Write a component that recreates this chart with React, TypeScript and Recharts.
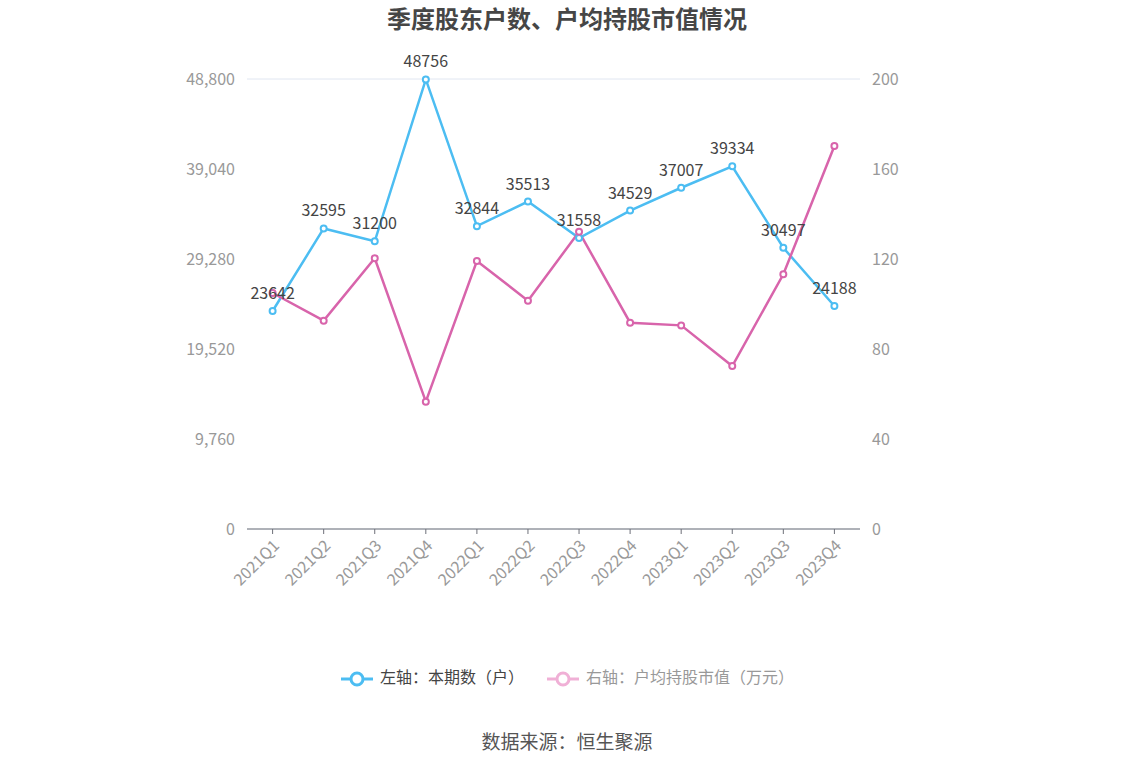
import { LineChart, Line, XAxis, YAxis, CartesianGrid, LabelList } from 'recharts';

const quarters = [
  '2021Q1', '2021Q2', '2021Q3', '2021Q4',
  '2022Q1', '2022Q2', '2022Q3', '2022Q4',
  '2023Q1', '2023Q2', '2023Q3', '2023Q4',
];
const holders = [23642, 32595, 31200, 48756, 32844, 35513, 31558, 34529, 37007, 39334, 30497, 24188];
const avgValue = [104.9, 92.6, 120.3, 56.6, 119.1, 101.5, 132.1, 91.7, 90.5, 72.4, 113.2, 170.2];
const leftTicks = [0, 9760, 19520, 29280, 39040, 48800];
const rightTicks = [0, 40, 80, 120, 160, 200];

const data = quarters.map((q, i) => ({ q, holders: holders[i], avg: avgValue[i] }));

const FONT = '"Noto Sans CJK SC", "Noto Sans", sans-serif';
const BLUE = '#4cbdf2';
const PINK = '#d864ab';

function XTick(props: any) {
  const { x, y, payload } = props;
  return (
    <g transform={`translate(${x},${y + 3})`}>
      <text
        transform="rotate(-45)"
        textAnchor="end"
        dy={11}
        fill="#999"
        fontSize={16}
        fontFamily={FONT}
      >
        {payload.value}
      </text>
    </g>
  );
}

function LegendIcon({ color }: { color: string }) {
  return (
    <svg width={34} height={16} style={{ verticalAlign: 'middle', marginRight: 6 }}>
      <line x1={1} y1={8} x2={33} y2={8} stroke={color} strokeWidth={3} />
      <circle cx={17} cy={8} r={6} fill="#fff" stroke={color} strokeWidth={3} />
    </svg>
  );
}

export default function App() {
  return (
    <div style={{ position: 'fixed', left: 0, top: 0, width: 1134, height: 766, background: '#fff', fontFamily: FONT }}>
      <div style={{ position: 'absolute', top: 0, width: 1134, textAlign: 'center', fontSize: 24, fontWeight: 'bold', color: '#464646' }}>
        季度股东户数、户均持股市值情况
      </div>
      <LineChart
        width={1134}
        height={766}
        data={data}
        margin={{ top: 79, right: 214, left: 187, bottom: 167 }}
      >
        <CartesianGrid vertical={false} stroke="#e0e6f1" />
        <XAxis
          dataKey="q"
          interval={0}
          padding={{ left: 25.6, right: 25.6 }}
          stroke="#6e7079"
          tick={<XTick />}
          tickSize={5}
          height={70}
        />
        <YAxis
          yAxisId="left"
          domain={[0, 48800]}
          ticks={leftTicks}
          axisLine={false}
          tickLine={false}
          tickMargin={6}
          width={60}
          tick={{ fill: '#999', fontSize: 16, fontFamily: FONT }}
          tickFormatter={(v: number) => v.toLocaleString('en-US')}
        />
        <YAxis
          yAxisId="right"
          orientation="right"
          domain={[0, 200]}
          ticks={rightTicks}
          axisLine={false}
          tickLine={false}
          tickMargin={6}
          width={60}
          tick={{ fill: '#999', fontSize: 16, fontFamily: FONT }}
        />
        <Line
          yAxisId="left"
          dataKey="holders"
          stroke={BLUE}
          strokeWidth={2.5}
          dot={{ r: 3, fill: '#fff', stroke: BLUE, strokeWidth: 2 }}
          isAnimationActive={false}
        >
          <LabelList dataKey="holders" position="top" offset={12} fill="#444" fontSize={16} fontFamily={FONT} />
        </Line>
        <Line
          yAxisId="right"
          dataKey="avg"
          stroke={PINK}
          strokeWidth={2.5}
          dot={{ r: 3, fill: '#fff', stroke: PINK, strokeWidth: 2 }}
          isAnimationActive={false}
        />
      </LineChart>
      <div style={{ position: 'absolute', top: 664, left: 0, width: 1134, textAlign: 'center', fontSize: 16 }}>
        <span style={{ color: '#444' }}>
          <LegendIcon color={BLUE} />
          左轴：本期数（户）
        </span>
        <span style={{ color: '#999', marginLeft: 22 }}>
          <LegendIcon color="#f0b0d6" />
          右轴：户均持股市值（万元）
        </span>
      </div>
      <div style={{ position: 'absolute', top: 727, left: 0, width: 1134, textAlign: 'center', fontSize: 19, color: '#555' }}>
        数据来源：恒生聚源
      </div>
    </div>
  );
}
